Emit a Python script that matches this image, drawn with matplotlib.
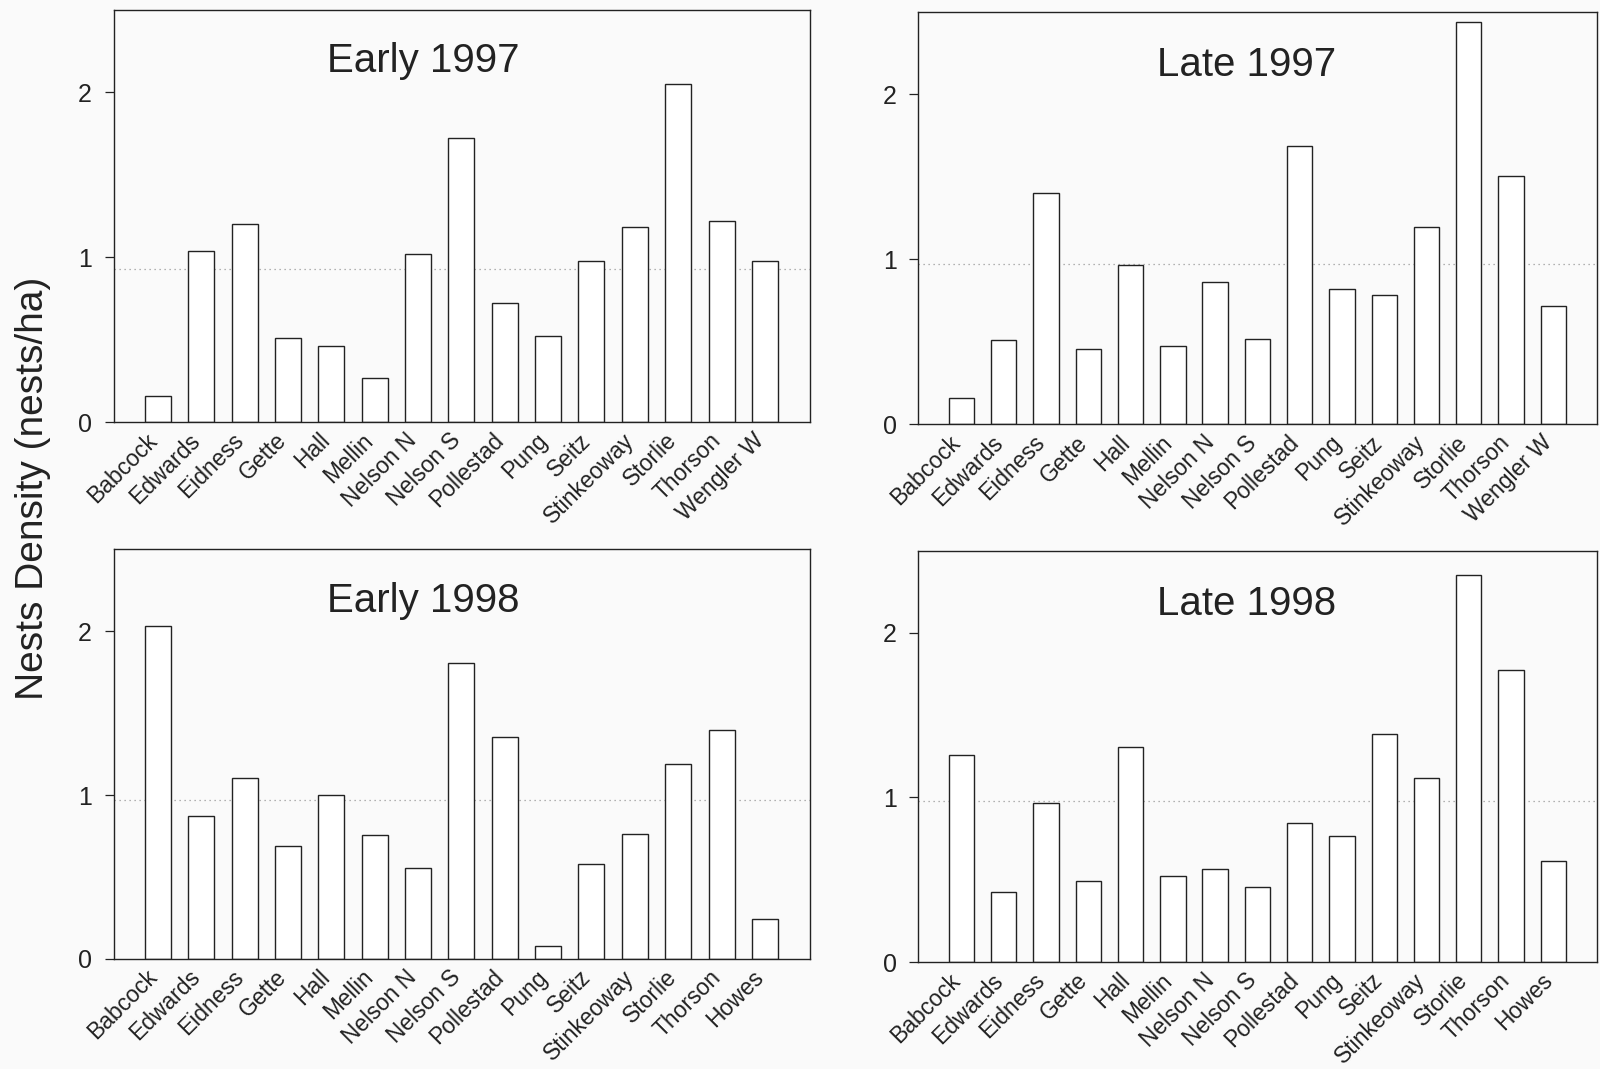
import matplotlib
matplotlib.use("Agg")
import matplotlib.pyplot as plt
import numpy as np

plt.rcParams["font.family"] = ["Liberation Sans", "DejaVu Sans"]

sites_97 = ["Babcock", "Edwards", "Eidness", "Gette", "Hall", "Mellin", "Nelson N",
            "Nelson S", "Pollestad", "Pung", "Seitz", "Stinkeoway", "Storlie",
            "Thorson", "Wengler W"]
sites_98 = ["Babcock", "Edwards", "Eidness", "Gette", "Hall", "Mellin", "Nelson N",
            "Nelson S", "Pollestad", "Pung", "Seitz", "Stinkeoway", "Storlie",
            "Thorson", "Howes"]

early_1997 = [0.16, 1.04, 1.20, 0.51, 0.465, 0.27, 1.02, 1.72, 0.72, 0.52,
              0.98, 1.185, 2.05, 1.22, 0.98]
late_1997 = [0.157, 0.51, 1.40, 0.455, 0.966, 0.473, 0.865, 0.515, 1.684, 0.823,
             0.783, 1.195, 2.435, 1.505, 0.72]
early_1998 = [2.03, 0.875, 1.105, 0.69, 1.0, 0.755, 0.553, 1.806, 1.352, 0.077,
              0.58, 0.76, 1.19, 1.40, 0.245]
late_1998 = [1.255, 0.426, 0.967, 0.49, 1.306, 0.52, 0.565, 0.456, 0.844, 0.765,
             1.386, 1.118, 2.35, 1.772, 0.613]

# mean lines (dotted)
means = [0.93, 0.97, 0.97, 0.98]
titles = ["Early 1997", "Late 1997", "Early 1998", "Late 1998"]

INK = "#222222"
BG = "#fafafa"

fig = plt.figure(figsize=(16, 10.69), dpi=100, facecolor=BG)

# [left, bottom, width, height] in figure fractions
boxes = [
    [0.071, 0.605, 0.435, 0.386],
    [0.574, 0.603, 0.424, 0.386],
    [0.071, 0.103, 0.435, 0.383],
    [0.574, 0.100, 0.424, 0.385],
]
title_pos = [(0.445, 0.875), (0.484, 0.87), (0.445, 0.875), (0.484, 0.87)]

panels = [
    (sites_97, early_1997),
    (sites_97, late_1997),
    (sites_98, early_1998),
    (sites_98, late_1998),
]

for i, ((names, vals), box) in enumerate(zip(panels, boxes)):
    ax = fig.add_axes(box)
    ax.set_facecolor(BG)
    x = np.arange(len(names))
    ax.bar(x, vals, width=0.6, color="white", edgecolor=INK, linewidth=1.0, zorder=2)
    ax.axhline(means[i], color="#999999", linestyle=(0, (1, 3)), linewidth=0.9, zorder=1)
    ax.set_xlim(-1.02, 15.03)
    ax.set_ylim(0, 2.5)
    ax.set_yticks([0, 1, 2])
    ax.tick_params(axis="y", direction="out", length=6.5, width=0.9, colors=INK,
                   labelsize=18, pad=9)
    ax.set_xticks(x)
    ax.set_xticklabels(names, rotation=45, ha="right", va="baseline",
                       rotation_mode="anchor", fontsize=16.5, color=INK)
    ax.tick_params(axis="x", length=0, pad=14)
    for sp in ax.spines.values():
        sp.set_color(INK)
        sp.set_linewidth(1.0)
    ax.text(title_pos[i][0], title_pos[i][1], titles[i], transform=ax.transAxes,
            ha="center", va="center", fontsize=29, color=INK)

fig.text(0.0205, 0.543, "Nests Density (nests/ha)", rotation=90, ha="center",
         va="center", fontsize=28, color=INK)

fig.savefig("out.png", dpi=100, facecolor=BG)
